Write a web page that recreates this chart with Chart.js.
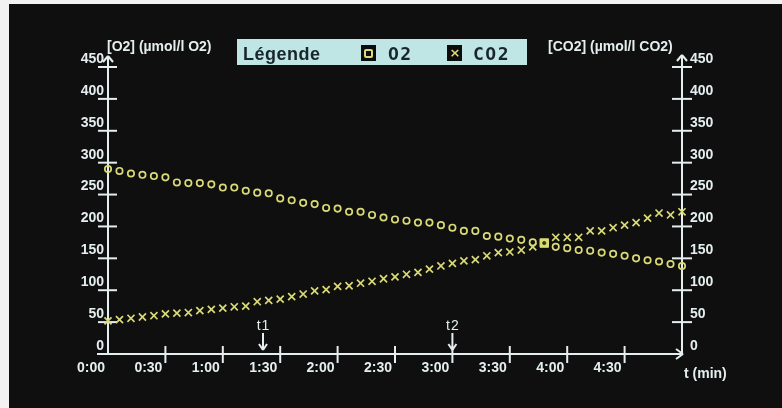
<!DOCTYPE html>
<html>
<head>
<meta charset="utf-8">
<script src="https://cdn.jsdelivr.net/npm/chart.js@4.4.1/dist/chart.umd.min.js"></script>
<style>
html,body{margin:0;padding:0;width:782px;height:408px;overflow:hidden;background:#f2f2f2;}
#bg{position:absolute;left:9px;top:4px;width:773px;height:404px;background:#0f0f0f;}
#c{position:absolute;left:0;top:0;}
.t{position:absolute;color:#e4eeee;font-family:"Liberation Sans",Arial,sans-serif;white-space:nowrap;}
.ax{font-size:14px;font-weight:bold;line-height:14px;}
#legend{position:absolute;left:237px;top:39px;width:290px;height:26px;background:#bfe5e5;}
#legend .lt{position:absolute;top:6px;line-height:18px;color:#17262a;}
#lgTitle{left:6px;font-family:"Liberation Sans",Arial,sans-serif;font-weight:bold;font-size:18px;letter-spacing:0.5px;}
.mono{font-family:"DejaVu Sans Mono",monospace;font-size:18px;font-weight:bold;letter-spacing:1.5px;}
.icon{position:absolute;top:6px;width:15px;height:16px;background:#0c0c0c;}
#icO2 div{position:absolute;left:3px;top:4px;width:5px;height:5px;border:2px solid #dada76;border-radius:2px;}
#icCO2 span{position:absolute;left:0;top:0;width:16px;height:16px;line-height:16px;text-align:center;color:#dada76;font-family:"DejaVu Sans",sans-serif;font-weight:bold;font-size:13px;}
.mk{font-size:14px;line-height:14px;letter-spacing:1px;}
</style>
</head>
<body>
<div id="bg"></div>
<canvas id="c" width="782" height="408"></canvas>
<div class="t ax" style="left:107px;top:39px;">[O2] (µmol/l O2)</div>
<div class="t ax" style="left:548px;top:39px;">[CO2] (µmol/l CO2)</div>
<div class="t ax" id="tmin" style="left:684px;top:366px;">t (min)</div>
<div id="legend">
  <div class="lt" id="lgTitle">Légende</div>
  <div class="icon" id="icO2" style="left:124px;"><div></div></div>
  <div class="lt mono" style="left:151px;">O2</div>
  <div class="icon" id="icCO2" style="left:210px;"><span>×</span></div>
  <div class="lt mono" style="left:236px;">CO2</div>
</div>
<div id="markers"></div>
<script>
// ---- data ----
const times = [0,6,12,18,24,30,36,42,48,54,60,66,72,78,84,90,96,102,108,114,120,126,132,138,144,150,156,162,168,174,180,186,192,198,204,210,216,222,228,234,240,246,252,258,264,270,276,282,288,294,300];
const o2Values = [290,287,283,281,279,277,269,268,268,266,261,261,256,253,252,244,241,237,235,229,228,223,223,218,214,211,209,206,206,202,198,193,193,185,184,181,179,175,174,168,166,163,162,159,157,154,150,147,145,141,138];
const co2Values = [52,54,56,58,60,63,64,65,68,70,72,74,75,82,84,86,90,94,99,101,106,107,111,114,118,121,125,128,133,138,142,146,148,154,159,160,163,168,174,183,183,183,193,193,198,202,206,213,221,218,223];
const cursorTime = [228];
const cursorValue = [174];
const xTickLabels = ['0:00','0:30','1:00','1:30','2:00','2:30','3:00','3:30','4:00','4:30'];
const markerTimes = [81,180];
const markerLabels = ['t1','t2'];

const axisColor = '#e4eeee';
const markColor = '#dada76';

function pts(xs, ys){ return xs.map((x,i)=>({x:x, y:ys[i]})); }

const axesPlugin = {
  id:'crtAxes',
  beforeDatasetsDraw(chart){
    const {ctx, scales:{x, y, y2}} = chart;
    const x0 = x.getPixelForValue(x.min), x1 = x.getPixelForValue(x.max);
    const yb = y.getPixelForValue(y.min), yt = y.getPixelForValue(y.max);
    ctx.save();
    ctx.strokeStyle = axisColor; ctx.lineWidth = 2; ctx.lineCap = 'butt';
    const seg = (a,b,c,d)=>{ctx.beginPath();ctx.moveTo(a,b);ctx.lineTo(c,d);ctx.stroke();};
    // left axis + arrow
    seg(x0, yb+1, x0, yt-11);
    seg(x0-5, yt-5, x0, yt-11); seg(x0, yt-11, x0+5, yt-5);
    // right axis + arrow
    seg(x1, yb+1, x1, yt-12);
    seg(x1-5, yt-6, x1, yt-12); seg(x1, yt-12, x1+5, yt-6);
    // x axis + arrow
    seg(x0-11, yb, x1+1, yb);
    seg(x1-6, yb-5, x1+1, yb); seg(x1+1, yb, x1-6, yb+5);
    // y ticks
    y.ticks.forEach(t=>{ if(t.value>y.min){ const p=y.getPixelForValue(t.value); seg(x0-10,p,x0+9,p);} });
    y2.ticks.forEach(t=>{ if(t.value>y2.min){ const p=y2.getPixelForValue(t.value); seg(x1-10,p,x1+10,p);} });
    // x ticks
    x.ticks.forEach(t=>{ if(t.value>x.min && t.value<x.max){ const p=x.getPixelForValue(t.value); seg(p,yb-8,p,yb+9);} });
    // time markers (arrows)
    markerTimes.forEach(m=>{
      const p = x.getPixelForValue(m);
      seg(p, yb-21, p, yb-4);
      seg(p-4, yb-10, p, yb-4); seg(p, yb-4, p+4, yb-10);
    });
    ctx.restore();
  }
};

const tickFont = {family:'"Liberation Sans", Arial, sans-serif', size:14, weight:'bold'};

const chart = new Chart(document.getElementById('c'), {
  type:'scatter',
  data:{
    datasets:[
      {label:'cursorDot', data:pts(cursorTime,cursorValue), yAxisID:'y', order:-2,
       pointStyle:'circle', pointRadius:1.6, backgroundColor:'#3a3a10', borderColor:'#3a3a10', borderWidth:1, clip:false},
      {label:'cursor', data:pts(cursorTime,cursorValue), yAxisID:'y', order:-1,
       pointStyle:'rect', pointRadius:6, backgroundColor:markColor, borderColor:markColor, borderWidth:1, clip:false},
      {label:'O2', data:pts(times,o2Values), yAxisID:'y', order:0,
       pointStyle:'circle', pointRadius:3.2, borderWidth:1.7, borderColor:markColor, backgroundColor:'rgba(0,0,0,0)', clip:false},
      {label:'CO2', data:pts(times,co2Values), yAxisID:'y2', order:1,
       pointStyle:'crossRot', pointRadius:5, borderWidth:1.7, borderColor:markColor, backgroundColor:markColor, clip:false}
    ]
  },
  options:{
    responsive:false, animation:false, devicePixelRatio:1,
    layout:{padding:{top:67,left:0,right:0,bottom:0}},
    plugins:{legend:{display:false}, tooltip:{enabled:false}},
    scales:{
      x:{type:'linear', min:0, max:300,
         grid:{display:false, drawTicks:false}, border:{display:false},
         ticks:{stepSize:30, color:axisColor, font:tickFont, align:'end', labelOffset:-3, padding:6, maxRotation:0, autoSkip:false,
                callback:(v)=>{ const i=Math.round(v/30); return (v%30===0 && i<xTickLabels.length) ? xTickLabels[i] : ''; }},
         afterFit:(s)=>{ s.height = 54; }},
      y:{type:'linear', position:'left', min:0, max:450,
         grid:{display:false, drawTicks:false}, border:{display:false},
         ticks:{stepSize:50, color:axisColor, font:tickFont, padding:4, labelOffset:-8},
         afterFit:(s)=>{ s.width = 108; }},
      y2:{type:'linear', position:'right', min:0, max:450,
         grid:{display:false, drawTicks:false}, border:{display:false},
         ticks:{stepSize:50, color:axisColor, font:tickFont, padding:8, labelOffset:-8},
         afterFit:(s)=>{ s.width = 100; }}
    }
  },
  plugins:[axesPlugin]
});

// marker labels (t1, t2) placed through the x scale
const mk = document.getElementById('markers');
const xs = chart.scales.x, ys = chart.scales.y;
markerTimes.forEach((m,i)=>{
  const d = document.createElement('div');
  d.className = 't mk';
  d.textContent = markerLabels[i];
  mk.appendChild(d);
  const w = d.getBoundingClientRect().width;
  d.style.left = (xs.getPixelForValue(m) - w/2 + 0.5) + 'px';
  d.style.top = (ys.getPixelForValue(0) - 36) + 'px';
});
</script>
</body>
</html>
